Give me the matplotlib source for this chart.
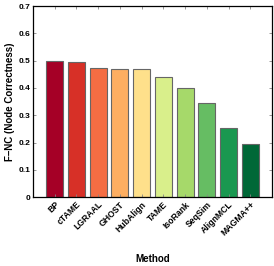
import matplotlib
matplotlib.use("Agg")
from matplotlib import pyplot as plt

methods = ["BP", "cTAME", "LGRAAL", "GHOST", "HubAlign", "TAME",
           "IsoRank", "SeqSim", "AlignMCL", "MAGMA++"]
fnc = [0.500, 0.495, 0.472, 0.470, 0.468, 0.442, 0.399, 0.345, 0.253, 0.195]
colors = ["#a50026", "#d73027", "#f46d43", "#fdae61", "#fee08b",
          "#d9ef8b", "#a6d96a", "#66bd63", "#1a9850", "#006837"]

plt.rcParams['font.family'] = ['Liberation Sans', 'DejaVu Sans']
plt.rcParams['font.weight'] = 'bold'

fig = plt.figure(figsize=(2.74, 2.66), dpi=100)
ax = fig.add_axes([0.120, 0.259, 0.873, 0.718])

xs = list(range(len(methods)))
ax.bar(xs, fnc, width=0.78, color=colors, edgecolor="#666666", linewidth=0.8)

ax.set_xlim(-1.0, len(methods))
ax.set_ylim(0, 0.7)
ax.set_yticks([0, 0.1, 0.2, 0.3, 0.4, 0.5, 0.6, 0.7])
ax.set_yticklabels(["0", "0.1", "0.2", "0.3", "0.4", "0.5", "0.6", "0.7"],
                   fontsize=6, fontweight='bold')
ax.set_xticks(xs)
ax.set_xticklabels(methods, rotation=45, ha='right', rotation_mode='anchor',
                   fontsize=6.2, fontweight='bold')
ax.tick_params(direction='in', top=True, right=True, length=2, width=0.6,
               color='#888888', pad=2)
for s in ax.spines.values():
    s.set_linewidth(0.9)

ax.set_ylabel("F\u2013NC (Node Correctness)", fontsize=7, fontweight='bold', labelpad=2)
ax.set_xlabel("Method", fontsize=7, fontweight='bold', labelpad=12)

fig.savefig("out.png", dpi=100)
